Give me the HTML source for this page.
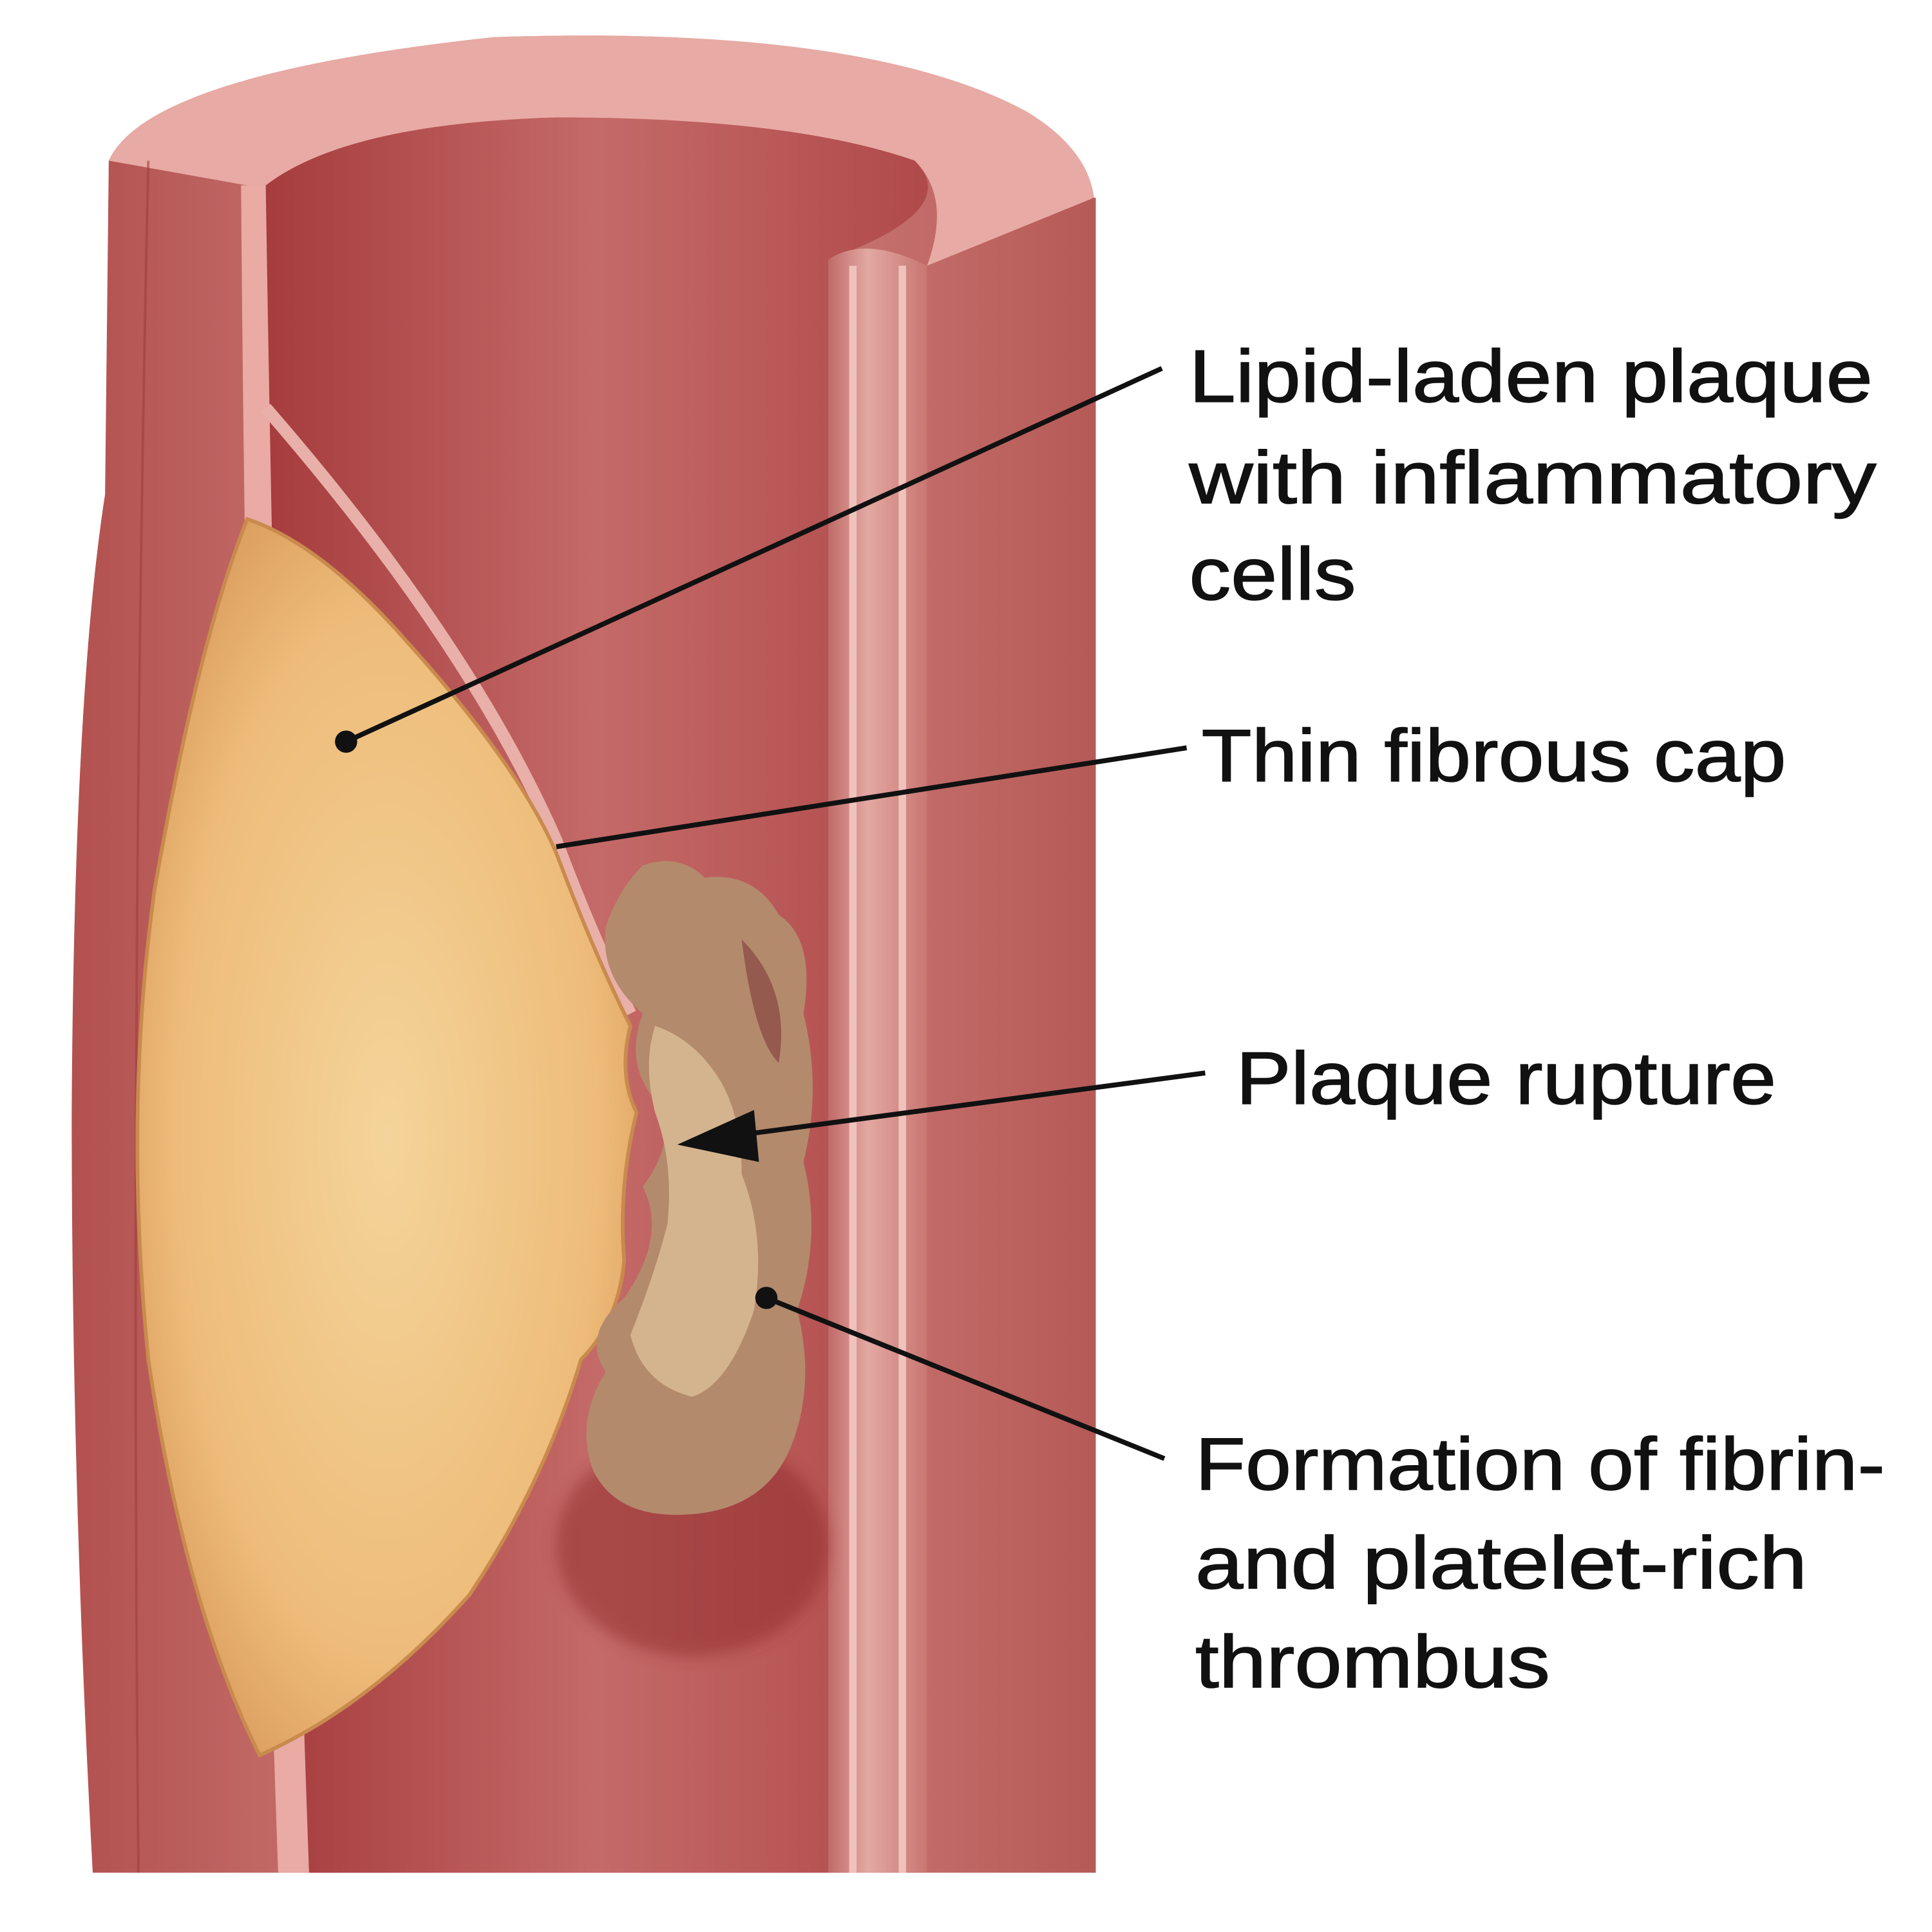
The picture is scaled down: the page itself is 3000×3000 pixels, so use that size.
<!DOCTYPE html>
<html><head><meta charset="utf-8"><style>html,body{margin:0;padding:0;background:#fff}svg{display:block}</style></head>
<body>
<svg width="3000" height="3000" viewBox="0 0 1563 1563" xmlns="http://www.w3.org/2000/svg">
<defs>
<linearGradient id="wall" x1="0" x2="1" y1="0" y2="0">
<stop offset="0" stop-color="#b2514f"/><stop offset="0.5" stop-color="#d88c88"/><stop offset="1" stop-color="#b65a57"/>
</linearGradient>
<linearGradient id="lumen" x1="0" x2="1" y1="0" y2="0">
<stop offset="0" stop-color="#a63c3e"/><stop offset="0.5" stop-color="#c46a68"/><stop offset="1" stop-color="#b04a4a"/>
</linearGradient>
<linearGradient id="rwall" x1="0" x2="1">
<stop offset="0" stop-color="#c06a68"/><stop offset="0.4" stop-color="#e3a8a2"/><stop offset="1" stop-color="#c97672"/>
</linearGradient>
<radialGradient id="plaque" cx="0.5" cy="0.5" r="0.6">
<stop offset="0" stop-color="#f4d49a"/><stop offset="0.7" stop-color="#eebc7a"/><stop offset="1" stop-color="#d99a5a"/>
</radialGradient>
<filter id="glow"><feGaussianBlur stdDeviation="6"/></filter>
</defs>
<rect width="1563" height="1563" fill="#fff"/>
<!-- outer vessel -->
<path d="M88,130 Q120,60 400,30 Q700,20 830,90 Q880,120 885,160 L885,1515 L75,1515 Q58,1200 58,900 Q60,560 85,400 Z" fill="url(#wall)"/>
<!-- top rim band -->
<path d="M88,130 Q120,60 400,30 Q700,20 830,90 Q880,120 885,160 L750,215 Q770,160 740,130 Q640,95 450,95 Q280,100 215,150 L200,150 Z" fill="#e8aaa4"/>
<!-- lumen/back wall -->
<path d="M215,150 Q280,100 450,95 Q640,95 740,130 Q780,170 670,210 L670,1515 L250,1515 Q230,1000 220,600 Z" fill="url(#lumen)"/>
<!-- left wall strips -->
<path d="M195,150 L215,150 Q225,800 250,1515 L225,1515 Q200,800 195,150 Z" fill="#e9aba4"/>
<path d="M120,130 Q105,800 112,1515" stroke="#9e3e3e" stroke-width="2" fill="none" opacity="0.6"/>
<!-- right cut face -->
<path d="M670,210 Q700,190 750,215 L750,1515 L670,1515 Z" fill="url(#rwall)"/>
<path d="M690,215 L690,1515 M730,215 L730,1515" stroke="#f0c2bc" stroke-width="6"/>
<path d="M885,160 L885,1515" stroke="#b65a57" stroke-width="3"/>
<!-- dark shadow under thrombus -->
<ellipse cx="560" cy="1250" rx="110" ry="90" fill="#8e2a2c" opacity="0.5" filter="url(#glow)"/>
<!-- fibrous cap line -->
<path d="M215,330 Q380,520 450,680 Q480,760 510,820" stroke="#e8b0a8" stroke-width="10" fill="none"/>
<!-- plaque -->
<path d="M200,420 Q260,440 330,520 Q420,620 450,690 Q480,770 510,830 Q500,870 515,900 Q500,960 505,1020 Q500,1070 470,1100 Q440,1200 380,1290 Q300,1380 210,1420 Q150,1300 120,1100 Q100,900 125,720 Q160,520 200,420 Z" fill="url(#plaque)" stroke="#c98a4e" stroke-width="3"/>
<!-- thrombus -->
<path d="M520,700 Q550,690 570,710 Q610,705 630,740 Q660,760 650,820 Q665,880 650,940 Q665,1000 645,1060 Q660,1120 640,1170 Q620,1220 560,1225 Q500,1230 480,1190 Q465,1150 490,1110 Q470,1080 505,1050 Q540,1000 520,960 Q550,920 530,890 Q505,860 520,820 Q485,790 490,750 Q500,720 520,700 Z" fill="#b48a6c"/>
<path d="M530,830 Q560,840 580,870 Q600,900 600,950 Q620,1000 610,1060 Q590,1120 560,1130 Q520,1120 510,1080 Q530,1030 540,990 Q545,940 530,900 Q520,860 530,830 Z" fill="#d4b48e"/>
<path d="M600,760 Q640,800 630,860 Q610,840 600,760 Z" fill="#7e3a3a" opacity="0.6"/>
<!-- labels -->
<g font-family="Liberation Sans, sans-serif" font-size="60" fill="#111" stroke="#111" stroke-width="0.8">
<text x="962" y="325" textLength="553" lengthAdjust="spacingAndGlyphs">Lipid-laden plaque</text>
<text x="962" y="407" textLength="556" lengthAdjust="spacingAndGlyphs">with inflammatory</text>
<text x="962" y="485" textLength="135" lengthAdjust="spacingAndGlyphs">cells</text>
<text x="972" y="632" textLength="473" lengthAdjust="spacingAndGlyphs">Thin fibrous cap</text>
<text x="1000" y="893" textLength="437" lengthAdjust="spacingAndGlyphs">Plaque rupture</text>
<text x="967" y="1205" textLength="558" lengthAdjust="spacingAndGlyphs">Formation of fibrin-</text>
<text x="967" y="1285" textLength="495" lengthAdjust="spacingAndGlyphs">and platelet-rich</text>
<text x="967" y="1365" textLength="287" lengthAdjust="spacingAndGlyphs">thrombus</text>
</g>
<g stroke="#111" stroke-width="4" fill="none">
<line x1="940" y1="298" x2="280" y2="600"/>
<line x1="960" y1="605" x2="450" y2="685"/>
<line x1="975" y1="868" x2="600" y2="918"/>
<line x1="942" y1="1180" x2="620" y2="1050"/>
</g>
<circle cx="280" cy="600" r="9" fill="#111"/>
<circle cx="620" cy="1050" r="9" fill="#111"/>
<polygon points="548,926 610,898 614,940" fill="#111"/>
</svg>
</body></html>
